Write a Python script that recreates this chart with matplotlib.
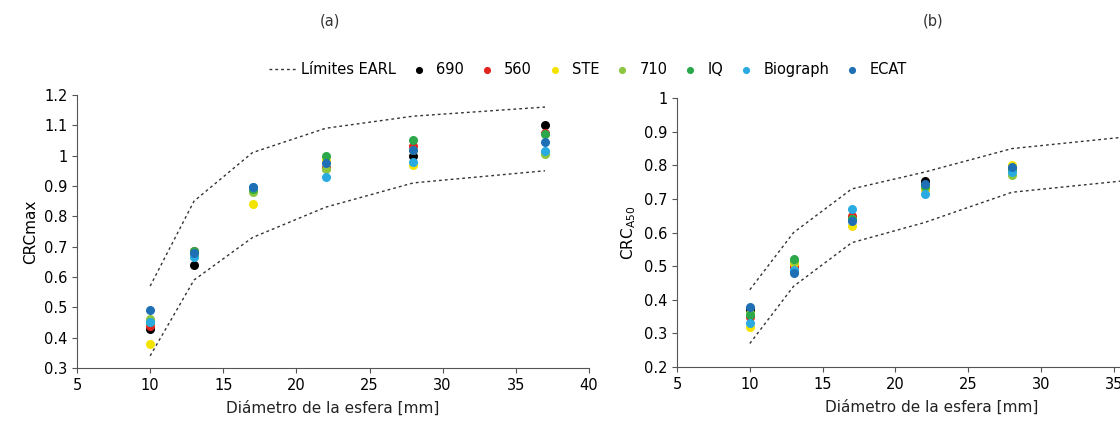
import matplotlib
matplotlib.use("Agg")
import matplotlib.pyplot as plt

plt.rcParams['font.family'] = ['DejaVu Sans']

diam = [10, 13, 17, 22, 28, 37]
names = ["690", "560", "STE", "710", "IQ", "Biograph", "ECAT"]
colors = ["#000000", "#e3231d", "#f2e400", "#8dc63f", "#2aa84a", "#29abe2", "#1f6fb5"]

# (a) CRCmax
earl_max_hi = [0.57, 0.85, 1.01, 1.09, 1.13, 1.16]
earl_max_lo = [0.34, 0.59, 0.73, 0.83, 0.91, 0.95]
crcmax = {
    "690":      [0.43, 0.64, 0.89, 0.96, 1.00, 1.10],
    "560":      [0.44, 0.685, 0.89, 0.96, 1.03, 1.075],
    "STE":      [0.38, 0.68, 0.84, 0.985, 0.97, 1.01],
    "710":      [0.46, 0.68, 0.88, 0.955, 1.02, 1.005],
    "IQ":       [0.45, 0.685, 0.89, 1.00, 1.05, 1.07],
    "Biograph": [0.45, 0.665, 0.895, 0.93, 0.98, 1.015],
    "ECAT":     [0.49, 0.68, 0.895, 0.975, 1.02, 1.045],
}

# (b) CRCA50
diam_b = [10, 13, 17, 22, 28]
earl_a50_hi = [0.43, 0.60, 0.73, 0.78, 0.85, 0.89]
earl_a50_lo = [0.27, 0.44, 0.57, 0.63, 0.72, 0.76]
crca50 = {
    "690":      [0.37, 0.49, 0.64, 0.755, 0.79],
    "560":      [0.35, 0.50, 0.65, 0.73, 0.79],
    "STE":      [0.32, 0.51, 0.62, 0.73, 0.80],
    "710":      [0.36, 0.515, 0.64, 0.735, 0.77],
    "IQ":       [0.355, 0.52, 0.64, 0.74, 0.785],
    "Biograph": [0.33, 0.49, 0.67, 0.715, 0.78],
    "ECAT":     [0.38, 0.48, 0.635, 0.745, 0.795],
}

fig = plt.figure(figsize=(11.2, 4.26), dpi=100)
ax1 = fig.add_axes([0.0688, 0.1362, 0.457, 0.641])
ax2 = fig.add_axes([0.6045, 0.1385, 0.455, 0.631])

dots = (0, (2, 2.2))
for ax, x, hi, lo, data in [(ax1, diam, earl_max_hi, earl_max_lo, crcmax),
                            (ax2, diam_b, earl_a50_hi, earl_a50_lo, crca50)]:
    ax.plot(diam, hi, color="#333333", lw=1, linestyle=dots, label="Límites EARL")
    ax.plot(diam, lo, color="#333333", lw=1, linestyle=dots)
    for n, c in zip(names, colors):
        ax.scatter(x, data[n], s=30, color=c, label=n, zorder=3)
    for s in ["top", "right"]:
        ax.spines[s].set_visible(False)
    for s in ["left", "bottom"]:
        ax.spines[s].set_color("#555555")
    ax.tick_params(labelsize=10.5, color="#555555", direction="out")
    ax.set_xlim(5, 40)
    ax.set_xticks(range(5, 41, 5))
    ax.set_xlabel("Diámetro de la esfera [mm]", fontsize=11, color="#222222", labelpad=6)

ax1.set_ylim(0.3, 1.2)
ax1.set_yticks([0.3, 0.4, 0.5, 0.6, 0.7, 0.8, 0.9, 1, 1.1, 1.2])
ax1.set_yticklabels(["0.3", "0.4", "0.5", "0.6", "0.7", "0.8", "0.9", "1", "1.1", "1.2"])
ax1.set_ylabel("CRCmax", fontsize=11)

ax2.set_ylim(0.2, 1.0)
ax2.set_yticks([0.2, 0.3, 0.4, 0.5, 0.6, 0.7, 0.8, 0.9, 1.0])
ax2.set_yticklabels(["0.2", "0.3", "0.4", "0.5", "0.6", "0.7", "0.8", "0.9", "1"])
ax2.set_ylabel(r"CRC$_{\mathrm{A50}}$", fontsize=11)

fig.text(0.295, 0.95, "(a)", ha="center", va="center", fontsize=10.5, color="#333333")
fig.text(0.833, 0.95, "(b)", ha="center", va="center", fontsize=10.5, color="#333333")

h, l = ax1.get_legend_handles_labels()
fig.legend(h, l, loc="center", bbox_to_anchor=(0.525, 0.837), ncol=8, frameon=False,
           fontsize=10.5, handlelength=2, handletextpad=0.2, columnspacing=0.55,
           markerscale=0.75)

fig.savefig("out.png", dpi=100)
